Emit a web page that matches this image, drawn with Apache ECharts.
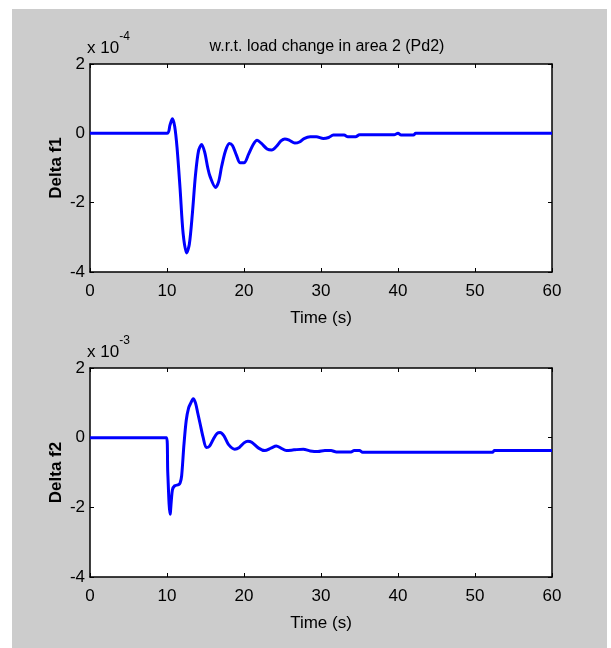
<!DOCTYPE html>
<html>
<head>
<meta charset="utf-8">
<title>Frequency deviation response</title>
<script src="https://cdn.jsdelivr.net/npm/echarts@6/dist/echarts.min.js"></script>
<style>
  html, body { margin: 0; padding: 0; background: #ffffff; }
  #panel { position: absolute; left: 12px; top: 9px; width: 595px; height: 639px; background: #cccccc; }
  #chart { position: absolute; left: 0; top: 0; width: 611px; height: 648px; }
</style>
</head>
<body>
<div id="panel"></div>
<div id="chart"></div>
<script>
// Time axis ticks (s)
const timeTicks = [0, 10, 20, 30, 40, 50, 60];

// Delta f1, values in units of 1e-4
const timeF1 = [0, 10.0, 10.4, 10.7, 11.0, 11.3, 11.7, 12.1, 12.55, 12.9, 13.3, 13.7, 14.1, 14.5, 14.9,
  15.3, 15.6, 16.3, 16.7, 17.1, 17.6, 18.1, 18.5, 19.0, 19.5, 20.0, 20.6, 21.2, 21.7, 22.3, 23.0,
  23.6, 24.2, 24.8, 25.3, 25.9, 26.6, 27.2, 27.8, 28.6, 29.4, 30.3, 31.0, 31.6, 33.0, 33.5, 34.5,
  35.0, 39.5, 40.0, 40.4, 42.0, 42.3, 60];
const valueF1 = [0, 0, 0.25, 0.42, 0.2, -0.4, -1.6, -2.9, -3.45, -3.2, -2.3, -1.2, -0.5, -0.32, -0.55,
  -1.0, -1.25, -1.56, -1.4, -0.95, -0.5, -0.29, -0.35, -0.62, -0.85, -0.85, -0.6, -0.32, -0.2, -0.3, -0.45,
  -0.48, -0.38, -0.22, -0.16, -0.2, -0.28, -0.25, -0.15, -0.1, -0.1, -0.15, -0.12, -0.05, -0.05, -0.1, -0.1,
  -0.04, -0.04, 0.0, -0.05, -0.05, 0.0, 0.0];

// Delta f2, values in units of 1e-3
const timeF2 = [0, 9.95, 10.1, 10.4, 10.7, 11.0, 11.5, 11.7, 11.9, 12.2, 12.5, 12.8, 13.1, 13.4, 13.7,
  14.0, 14.3, 14.7, 15.1, 15.5, 16.0, 16.5, 16.9, 17.4, 18.0, 18.8, 19.4, 20.0, 20.5, 21.0, 21.9,
  22.7, 23.5, 24.2, 24.8, 25.5, 26.5, 27.7, 28.6, 29.6, 30.5, 31.3, 32.0, 33.9, 34.3, 35.0, 35.4,
  52.3, 52.5, 60];
const valueF2 = [0, 0, -1.0, -2.2, -1.5, -1.38, -1.35, -1.3, -1.1, -0.2, 0.5, 0.85, 1.0, 1.12, 1.0,
  0.7, 0.4, 0.0, -0.28, -0.25, -0.05, 0.12, 0.15, 0.05, -0.2, -0.33, -0.28, -0.15, -0.1, -0.13, -0.3,
  -0.37, -0.3, -0.24, -0.3, -0.37, -0.35, -0.33, -0.38, -0.4, -0.37, -0.37, -0.41, -0.41, -0.37, -0.37, -0.42,
  -0.42, -0.37, -0.37];

const yTicks = [-4, -2, 0, 2];

const FONT = '"Liberation Sans Narrow", "Liberation Sans", Arial, sans-serif';

function zip(t, v) { return t.map((x, i) => [x, v[i]]); }

const lineAxis = { show: true, onZero: false, lineStyle: { color: '#000', width: 1.5 } };
const inTick = { show: true, inside: true, length: 4, lineStyle: { color: '#000', width: 1 } };

function bottomX(grid) {
  return {
    type: 'value', gridIndex: grid, position: 'bottom',
    min: timeTicks[0], max: timeTicks[timeTicks.length - 1], interval: 10,
    axisLine: lineAxis, axisTick: inTick, splitLine: { show: false },
    axisLabel: { color: '#000', fontFamily: FONT, fontSize: 17, margin: 11 },
    name: 'Time (s)', nameLocation: 'middle', nameGap: 38, nameMoveOverlap: false,
    nameTextStyle: { color: '#000', fontFamily: FONT, fontSize: 17 }
  };
}
function topX(grid) {
  return {
    type: 'value', gridIndex: grid, position: 'top',
    min: timeTicks[0], max: timeTicks[timeTicks.length - 1], interval: 10,
    axisLine: lineAxis, axisTick: inTick, axisLabel: { show: false }, splitLine: { show: false }
  };
}
function leftY(grid, name) {
  return {
    type: 'value', gridIndex: grid, position: 'left',
    min: yTicks[0], max: yTicks[yTicks.length - 1], interval: 2,
    axisLine: lineAxis, axisTick: inTick, splitLine: { show: false },
    axisLabel: { color: '#000', fontFamily: FONT, fontSize: 17, margin: 5 },
    name: name, nameLocation: 'middle', nameGap: 25, nameRotate: 90, nameMoveOverlap: false,
    nameTextStyle: { color: '#000', fontFamily: FONT, fontSize: 17, fontWeight: 'bold' }
  };
}
function rightY(grid) {
  return {
    type: 'value', gridIndex: grid, position: 'right',
    min: yTicks[0], max: yTicks[yTicks.length - 1], interval: 2,
    axisLine: lineAxis, axisTick: inTick, axisLabel: { show: false }, splitLine: { show: false }
  };
}

function exponent(x, y, exp) {
  return {
    type: 'text', left: x, top: y,
    style: {
      text: '{b|x 10}{s|' + exp + '}',
      rich: {
        b: { fontFamily: FONT, fontSize: 17, fill: '#000', verticalAlign: 'bottom', lineHeight: 26 },
        s: { fontFamily: FONT, fontSize: 12, fill: '#000', verticalAlign: 'top', lineHeight: 26 }
      }
    }
  };
}

const chart = echarts.init(document.getElementById('chart'), null, { renderer: 'canvas' });
chart.setOption({
  backgroundColor: 'transparent',
  animation: false,
  title: {
    text: 'w.r.t. load change in area 2 (Pd2)',
    left: 322, top: 34, textAlign: 'center',
    textStyle: { color: '#000', fontFamily: FONT, fontSize: 16, fontWeight: 'normal' }
  },
  grid: [
    { left: 90, top: 64, width: 462, height: 208, show: true, backgroundColor: '#fff', borderWidth: 0 },
    { left: 90, top: 368, width: 462, height: 209, show: true, backgroundColor: '#fff', borderWidth: 0 }
  ],
  xAxis: [bottomX(0), topX(0), bottomX(1), topX(1)],
  yAxis: [leftY(0, 'Delta f1'), rightY(0), leftY(1, 'Delta f2'), rightY(1)],
  graphic: [exponent(87, 31, '-4'), exponent(87, 335, '-3')],
  series: [
    {
      type: 'line', xAxisIndex: 0, yAxisIndex: 0, data: zip(timeF1, valueF1),
      showSymbol: false, smooth: 0.3, lineStyle: { color: '#0000ff', width: 3 }
    },
    {
      type: 'line', xAxisIndex: 2, yAxisIndex: 2, data: zip(timeF2, valueF2),
      showSymbol: false, smooth: 0.3, lineStyle: { color: '#0000ff', width: 3 }
    }
  ]
});
</script>
</body>
</html>
